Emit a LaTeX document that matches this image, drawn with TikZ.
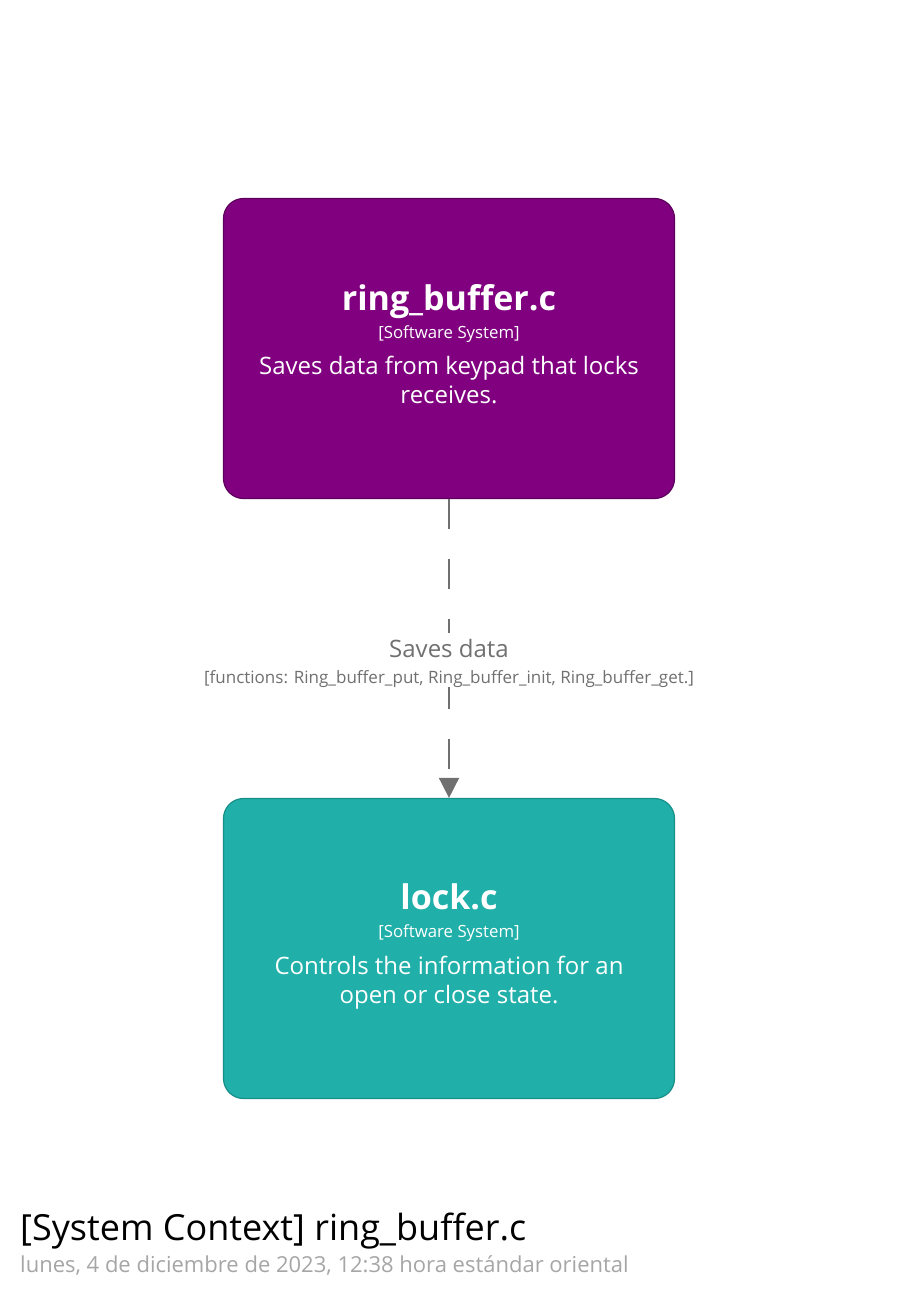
\documentclass[tikz,border=0pt]{standalone}
\usepackage{fontspec}
\setmainfont{Open Sans}
\usetikzlibrary{arrows.meta}
\definecolor{sysA}{HTML}{800080}
\definecolor{sysAb}{HTML}{5C005C}
\definecolor{sysB}{HTML}{20B0A9}
\definecolor{sysBb}{HTML}{188F89}
\definecolor{relgray}{HTML}{707070}
\definecolor{dategray}{HTML}{A6A6A6}
\tikzset{
  sysbox/.style={rounded corners=20pt, minimum width=451pt, minimum height=300pt, line width=1.2pt, inner sep=0pt},
  rel/.style={draw=relgray, line width=1.6pt, dash pattern=on 30pt off 30pt, -{Triangle[width=20pt,length=20pt]}},
  boxtitle/.style={text=white, font=\fontsize{34}{38}\selectfont\bfseries, anchor=base, inner sep=0pt},
  boxtype/.style={text=white, font=\fontsize{16.8}{20}\selectfont, anchor=base, inner sep=0pt},
  boxdesc/.style={text=white, font=\fontsize{24}{29.5}\selectfont, anchor=base, align=center, inner sep=0pt},
}
\begin{document}
\begin{tikzpicture}[x=1pt,y=-1pt]
\useasboundingbox[fill=white] (0,0) rectangle (900,1300);
\node[sysbox, fill=sysA, draw=sysAb] (rb) at (449,348.5) {};
\node[sysbox, fill=sysB, draw=sysBb] (lk) at (449,948.5) {};
% ring_buffer texts
\node[boxtitle] (rbt) at (449,310) {ring\_buffer.c};
\node[boxtype] (rbs) at (449,338) {[Software System]};
\node[boxdesc] (rbd) at (449,403.5) {Saves data from keypad that locks\\receives.};
% lock texts
\node[boxtitle] (lkt) at (449,909) {lock.c};
\node[boxtype] (lks) at (449,937) {[Software System]};
\node[boxdesc] (lkd) at (449,1003.5) {Controls the information for an\\open or close state.};
% relationship
\draw[rel] (rb.south) -- (lk.north);
\node[fill=white, inner sep=0pt, minimum height=54pt, minimum width=500pt] (lblbg) at (449,660) {};
\node[text=relgray, font=\fontsize{24}{28}\selectfont, anchor=base, inner sep=0pt] (lbl) at (449,657) {Saves data};
\node[text=relgray, font=\fontsize{17}{20}\selectfont, anchor=base, inner sep=0pt] (lbl2) at (449,683) {[functions: Ring\_buffer\_put, Ring\_buffer\_init, Ring\_buffer\_get.]};
% title
\node[anchor=base west, inner sep=0pt, font=\fontsize{36}{40}\selectfont] (title) at (20,1240) {[System Context] ring\_buffer.c};
\node[anchor=base west, inner sep=0pt, text=dategray, font=\fontsize{22}{26}\selectfont] (date) at (20,1272) {lunes, 4 de diciembre de 2023, 12:38 hora estándar oriental};
\end{tikzpicture}
\end{document}
